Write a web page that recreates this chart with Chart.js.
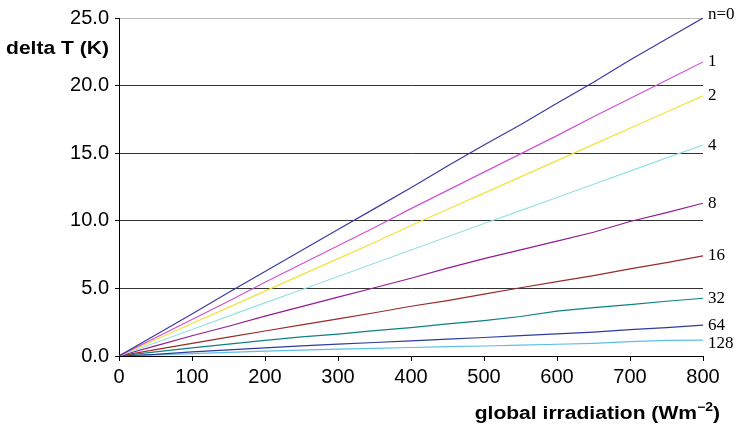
<!DOCTYPE html>
<html>
<head>
<meta charset="utf-8">
<script src="https://cdn.jsdelivr.net/npm/chart.js@4"></script>
<style>
html,body{margin:0;padding:0;background:#fff;}
#wrap{position:relative;width:737px;height:431px;}
</style>
</head>
<body>
<div id="wrap"><canvas id="c" width="737" height="431"></canvas></div>
<script>
const irradiation = [0,50,100,150,200,250,300,350,400,450,500,550,600,650,700,750,800];
const seriesLabels = ['n=0','1','2','4','8','16','32','64','128'];
const n0   = [0,1.55,3.1,4.7,6.25,7.8,9.35,10.9,12.45,14.05,15.6,17.1,18.7,20.25,21.9,23.45,25.0];
const n1   = [0,1.35,2.7,4.05,5.45,6.8,8.15,9.5,10.9,12.25,13.6,14.95,16.3,17.7,19.05,20.4,21.75];
const n2   = [0,1.2,2.4,3.6,4.8,6.0,7.2,8.4,9.65,10.85,12.05,13.25,14.45,15.65,16.85,18.05,19.25];
const n4   = [0,0.98,1.96,2.95,3.93,4.9,5.88,6.86,7.84,8.82,9.8,10.75,11.72,12.7,13.67,14.65,15.6];
const n8   = [0,0.75,1.5,2.2,2.95,3.65,4.35,5.05,5.75,6.5,7.2,7.85,8.5,9.15,9.95,10.6,11.3];
const n16  = [0,0.47,0.93,1.4,1.85,2.3,2.75,3.2,3.68,4.1,4.57,5.05,5.5,5.95,6.45,6.9,7.4];
const n32  = [0,0.3,0.6,0.88,1.15,1.41,1.62,1.87,2.1,2.38,2.62,2.92,3.32,3.58,3.8,4.05,4.27];
const n64  = [0,0.12,0.3,0.45,0.6,0.75,0.88,1.0,1.12,1.25,1.37,1.5,1.63,1.77,1.95,2.1,2.28];
const n128 = [0,0.08,0.18,0.27,0.36,0.44,0.51,0.57,0.63,0.69,0.74,0.8,0.87,0.94,1.06,1.15,1.18];
const yTicks = [0,5,10,15,20,25];
const xTicks = [0,100,200,300,400,500,600,700,800];

const allSeries = [n0,n1,n2,n4,n8,n16,n32,n64,n128];
const colors = ['#3b3aa2','#d052d0','#f2e23a','#96e2e0','#921c92','#992a2a','#0e8080','#2e3c9e','#5cbfe6'];

const datasets = allSeries.map((s,i)=>({
  label: seriesLabels[i],
  data: irradiation.map((x,j)=>({x:x,y:s[j]})),
  borderColor: colors[i],
  borderWidth: 1.2,
  pointRadius: 0,
  fill: false,
  tension: 0
}));

function stretchedText(ctx, text, xRight, y, sx){
  const w = ctx.measureText(text).width * sx;
  ctx.save();
  ctx.translate(xRight - w, y);
  ctx.scale(sx, 1);
  ctx.textAlign = 'left';
  ctx.fillText(text, 0, 0);
  ctx.restore();
  return w;
}

const decor = {
  id:'decor',
  afterDatasetsDraw(chart){
    const ctx = chart.ctx;
    const area = chart.chartArea;
    ctx.save();
    ctx.fillStyle = '#000';
    ctx.font = '17px "Liberation Serif", "Times New Roman", serif';
    ctx.textAlign = 'left';
    ctx.textBaseline = 'middle';
    chart.data.datasets.forEach((ds,i)=>{
      const meta = chart.getDatasetMeta(i);
      const last = meta.data[meta.data.length-1];
      let dy = 0;
      if (i===0) dy = -3;
      if (i===8) dy = 3;
      ctx.fillText(ds.label, area.right + 5, last.y + dy);
    });
    const sx = 1.17;
    // y title
    ctx.font = 'bold 18px "Liberation Sans", Arial, sans-serif';
    ctx.textBaseline = 'middle';
    stretchedText(ctx, 'delta T (K)', 109, 49, sx);
    // x title with superscript
    ctx.textBaseline = 'alphabetic';
    const right = 720;
    ctx.font = 'bold 18px "Liberation Sans", Arial, sans-serif';
    const wTail = stretchedText(ctx, ')', right, 419, sx);
    ctx.font = 'bold 12px "Liberation Sans", Arial, sans-serif';
    const wSup = stretchedText(ctx, '\u22122', right - wTail, 411, sx);
    ctx.font = 'bold 18px "Liberation Sans", Arial, sans-serif';
    stretchedText(ctx, 'global irradiation (Wm', right - wTail - wSup, 419, sx);
    ctx.restore();
  }
};

new Chart(document.getElementById('c'), {
  type:'line',
  data:{datasets:datasets},
  options:{
    responsive:false,
    animation:false,
    events:[],
    layout:{padding:{left:0,top:16,right:34,bottom:0}},
    plugins:{legend:{display:false},tooltip:{enabled:false},title:{display:false}},
    scales:{
      x:{
        type:'linear',
        min:0,max:800,
        afterFit(scale){ scale.height = 75; },
        afterBuildTicks(scale){ scale.ticks = xTicks.map(v=>({value:v})); },
        ticks:{
          color:'#000',
          padding:4,
          font:{family:'"Liberation Sans", Arial, sans-serif',size:20},
          callback:(v)=>String(v),
          maxRotation:0,autoSkip:false
        },
        grid:{drawOnChartArea:false,drawTicks:true,tickLength:5,tickColor:'#000',color:'#000'},
        border:{display:true,color:'#000',width:1}
      },
      y:{
        type:'linear',
        min:0,max:25,
        afterFit(scale){ scale.width = 119; },
        afterBuildTicks(scale){ scale.ticks = yTicks.map(v=>({value:v})); },
        ticks:{
          color:'#000',
          padding:6,
          font:{family:'"Liberation Sans", Arial, sans-serif',size:20},
          callback:(v)=>Number(v).toFixed(1)
        },
        grid:{
          drawTicks:true,tickLength:4,tickColor:'#000',
          color:(c)=> (c.tick && c.tick.value===25) ? '#bdbdbd' : '#333',
          lineWidth:1
        },
        border:{display:true,color:'#000',width:1}
      }
    }
  },
  plugins:[decor]
});
</script>
</body>
</html>
